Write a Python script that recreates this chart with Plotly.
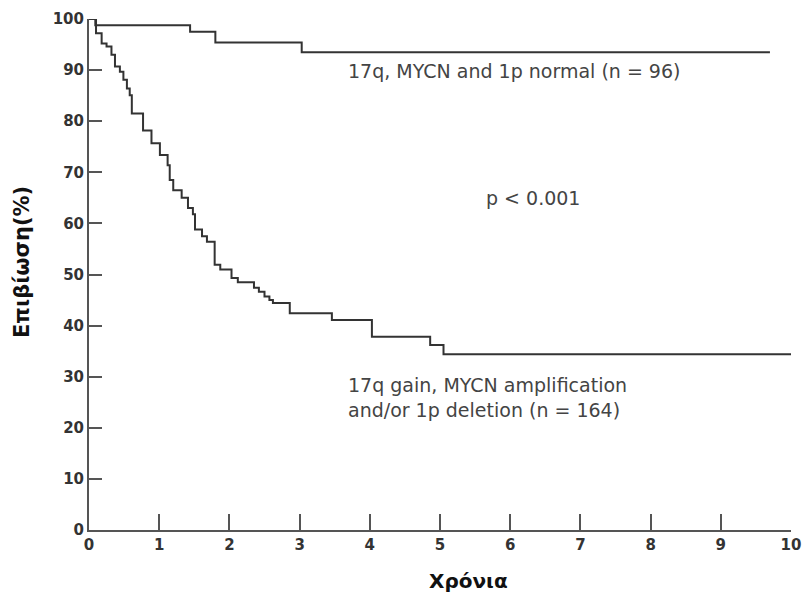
import plotly.graph_objects as go

# Kaplan-Meier step data (years, survival %)
normal_t = [0, 0.09, 1.44, 1.80, 3.03, 9.70]
normal_s = [100, 98.8, 97.5, 95.4, 93.5, 93.5]

abnormal_t = [0, 0.10, 0.18, 0.25, 0.32, 0.37, 0.44, 0.49, 0.54, 0.58, 0.61, 0.77,
              0.89, 1.01, 1.12, 1.15, 1.20, 1.32, 1.41, 1.48, 1.51, 1.61, 1.68,
              1.79, 1.87, 2.03, 2.12, 2.35, 2.42, 2.50, 2.57, 2.62, 2.86, 3.46,
              4.03, 4.86, 5.05, 10.0]
abnormal_s = [100, 97.2, 95.2, 94.6, 93.0, 90.7, 89.7, 88.1, 86.4, 85.1, 81.5, 78.2,
              75.7, 73.4, 71.4, 68.5, 66.5, 65.0, 63.0, 61.8, 58.8, 57.5, 56.4,
              51.9, 51.0, 49.3, 48.5, 47.4, 46.6, 45.7, 45.0, 44.4, 42.4, 41.1,
              37.8, 36.2, 34.4, 34.4]

x_ticks = list(range(0, 11))
y_ticks = list(range(0, 101, 10))

label_normal = "17q, MYCN and 1p normal (n = 96)"
label_abnormal = "17q gain, MYCN amplification<br>and/or 1p deletion (n = 164)"
label_p = "p < 0.001"
x_title = "Χρόνια"
y_title = "Επιβίωση(%)"

line_color = "#333333"
axis_color = "#555555"
fnt = "DejaVu Sans"

W, H = 803, 595
L, R, T, B = 89, 12, 19, 65
pw, ph = W - L - R, H - T - B

fig = go.Figure()
fig.add_trace(go.Scatter(x=normal_t, y=normal_s, mode="lines", line_shape="hv",
                         line=dict(color=line_color, width=2), showlegend=False))
fig.add_trace(go.Scatter(x=abnormal_t, y=abnormal_s, mode="lines", line_shape="hv",
                         line=dict(color=line_color, width=2), showlegend=False))

tick_font = dict(family=fnt, size=15, color="#333333", weight=700)

fig.update_layout(
    width=W, height=H,
    margin=dict(l=L, r=R, t=T, b=B, autoexpand=False),
    paper_bgcolor="white", plot_bgcolor="white",
    xaxis=dict(range=[0, 10], tickvals=x_ticks, ticktext=[str(v) for v in x_ticks],
               showline=True, linecolor=axis_color, linewidth=2,
               ticks="inside", ticklen=16, tickwidth=2, tickcolor=axis_color,
               showgrid=False, zeroline=False, automargin=False,
               tickfont=tick_font),
    yaxis=dict(range=[0, 100], tickvals=y_ticks, ticktext=[str(v) for v in y_ticks],
               showline=True, linecolor=axis_color, linewidth=2,
               ticks="inside", ticklen=13, tickwidth=2, tickcolor=axis_color,
               showgrid=False, zeroline=False, automargin=False,
               tickfont=tick_font),
    annotations=[
        dict(x=3.66, y=89.9, xref="x", yref="y", text=label_normal, showarrow=False,
             xanchor="left", yanchor="middle",
             font=dict(family=fnt, size=19, color="#444444")),
        dict(x=6.33, y=65.0, xref="x", yref="y", text=label_p, showarrow=False,
             xanchor="center", yanchor="middle",
             font=dict(family=fnt, size=19, color="#444444")),
        dict(x=3.66, y=25.9, xref="x", yref="y", text=label_abnormal, showarrow=False,
             xanchor="left", yanchor="middle", align="left",
             font=dict(family=fnt, size=19, color="#444444")),
        dict(x=(468 - L) / pw, y=(H - 581 - B) / ph, xref="paper", yref="paper",
             text=x_title, showarrow=False, xanchor="center", yanchor="middle",
             font=dict(family=fnt, size=20, color="#111111", weight=700)),
        dict(x=(22 - L) / pw, y=(H - 262 - B) / ph, xref="paper", yref="paper",
             text=y_title, showarrow=False, textangle=-90,
             xanchor="center", yanchor="middle",
             font=dict(family=fnt, size=21, color="#111111", weight=700)),
    ],
)

fig.write_html("out.html")
